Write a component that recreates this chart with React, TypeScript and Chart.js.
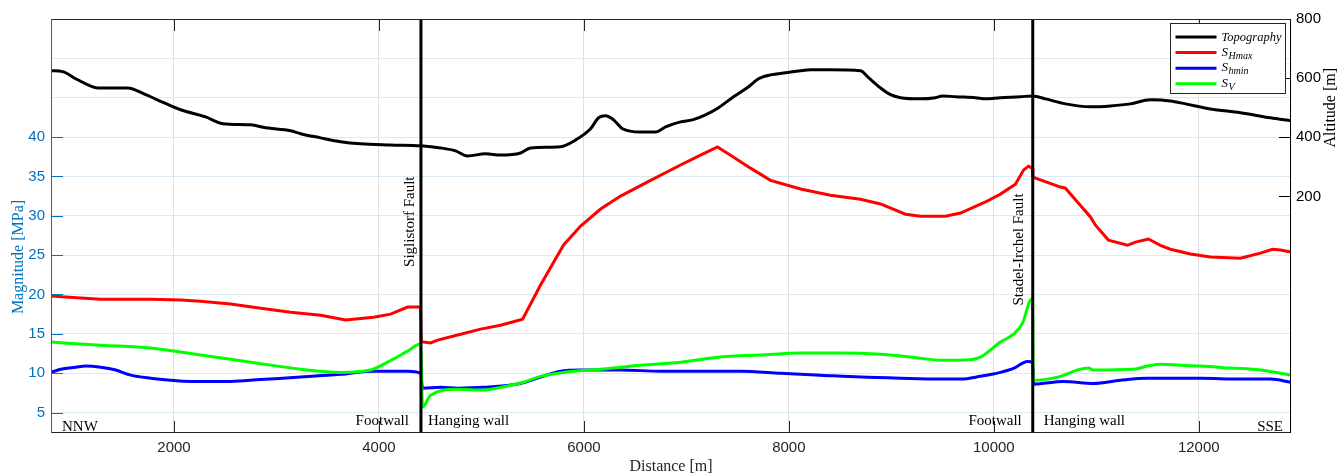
import React, { useEffect, useRef } from 'react';
import { Chart, registerables } from 'chart.js';

Chart.register(...registerables);

// ---- data: [distance (m), value] ----
const topography: number[][] = [
  [800, 625], [914, 622], [1041, 598], [1139, 581], [1256, 567], [1548, 567], [1724, 544], [1900, 517],
  [2065, 493], [2309, 469], [2475, 446], [2748, 442], [2895, 432], [3138, 422], [3236, 412], [3431, 398],
  [3626, 385], [3821, 378], [4114, 374], [4406, 371], [4602, 364], [4748, 354], [4865, 337], [5041, 344],
  [5187, 340], [5382, 347], [5480, 364], [5772, 368], [5919, 391], [6065, 429], [6143, 466], [6212, 473],
  [6290, 459], [6377, 429], [6553, 418], [6699, 418], [6797, 435], [6943, 452], [7060, 459], [7187, 476],
  [7314, 500], [7460, 537], [7607, 571], [7704, 598], [7821, 611], [7968, 618], [8114, 625], [8211, 628],
  [8406, 628], [8699, 625], [8767, 605], [8894, 567], [8992, 544], [9089, 534], [9284, 530], [9430, 534],
  [9499, 540], [9626, 537], [9821, 534], [9919, 530], [10065, 534], [10260, 537], [10378, 540], [10505, 530],
  [10699, 513], [10943, 503], [11138, 506], [11333, 513], [11528, 527], [11723, 523], [11870, 513], [12114, 496],
  [12406, 483], [12699, 466], [12900, 456],
];

const sHmax: number[][] = [
  [800, 19.8], [1090, 19.55], [1285, 19.4], [1773, 19.4], [2065, 19.3], [2260, 19.15], [2553, 18.8], [2846, 18.25],
  [3138, 17.75], [3431, 17.35], [3675, 16.75], [3948, 17.1], [4114, 17.5], [4280, 18.4], [4406, 18.4],
  [4412, 14.0], [4504, 13.85], [4573, 14.2], [4797, 14.95], [4992, 15.6], [5187, 16.1], [5402, 16.85],
  [5577, 21.2], [5802, 26.3], [5968, 28.7], [6163, 30.85], [6358, 32.5], [6651, 34.5], [6943, 36.45],
  [7138, 37.7], [7304, 38.75], [7431, 37.7], [7626, 36.05], [7821, 34.5], [8114, 33.4], [8406, 32.6],
  [8699, 32.1], [8894, 31.5], [9138, 30.2], [9284, 29.95], [9528, 29.95], [9675, 30.35], [9919, 31.75],
  [10065, 32.75], [10211, 34.0], [10290, 35.8], [10338, 36.3], [10375, 36.05],
  [10382, 34.9], [10651, 33.65], [10699, 33.5], [10816, 31.75], [10943, 29.85], [10992, 28.8], [11119, 26.9],
  [11304, 26.25], [11382, 26.65], [11509, 27.05], [11626, 26.25], [11723, 25.75], [11919, 25.15], [12114, 24.75],
  [12406, 24.6], [12601, 25.25], [12719, 25.75], [12797, 25.65], [12900, 25.4],
];

const shmin: number[][] = [
  [800, 10.1], [895, 10.5], [1041, 10.75], [1139, 10.9], [1285, 10.75], [1432, 10.4], [1578, 9.75], [1773, 9.35],
  [1968, 9.1], [2163, 8.95], [2553, 8.95], [2846, 9.2], [3236, 9.5], [3626, 9.85], [3919, 10.25], [4280, 10.25],
  [4406, 10.0], [4426, 8.1], [4602, 8.2], [4768, 8.1], [5021, 8.2], [5382, 8.7], [5577, 9.5], [5772, 10.25],
  [5968, 10.4], [6358, 10.4], [6748, 10.25], [7138, 10.25], [7529, 10.25], [7919, 10.0], [8309, 9.75],
  [8699, 9.5], [9089, 9.35], [9479, 9.25], [9675, 9.25], [9870, 9.6], [10065, 10.1], [10192, 10.6],
  [10329, 11.5], [10378, 11.4], [10390, 8.6], [10680, 8.95], [10972, 8.7], [11236, 9.1], [11499, 9.35],
  [11626, 9.35], [12016, 9.35], [12406, 9.25], [12699, 9.25], [12900, 8.85],
];

const sV: number[][] = [
  [800, 13.95], [1285, 13.55], [1773, 13.2], [2260, 12.3], [2748, 11.4], [3236, 10.5], [3626, 10.1], [3919, 10.4],
  [4085, 11.4], [4280, 12.8], [4406, 13.7], [4426, 5.7], [4504, 7.2], [4768, 7.95], [5021, 7.85], [5187, 8.2],
  [5411, 8.85], [5577, 9.6], [5802, 10.1], [6163, 10.5], [6553, 11.0], [6943, 11.4], [7334, 12.05], [7724, 12.3],
  [8114, 12.55], [8504, 12.55], [8894, 12.4], [9187, 12.05], [9479, 11.65], [9675, 11.65], [9870, 12.05],
  [10065, 13.95], [10192, 14.95], [10280, 16.35], [10358, 19.3], [10378, 19.4], [10384, 9.1], [10651, 9.6],
  [10816, 10.4], [10924, 10.65], [10972, 10.4], [11363, 10.5], [11499, 10.9], [11626, 11.15], [11821, 11.0],
  [12016, 10.9], [12309, 10.65], [12601, 10.4], [12900, 9.75],
];

const faults = [4410, 10380];
const faultNames = ['Siglistorf Fault', 'Stadel-Irchel Fault'];
const faultLabelStart = [23.5, 18.6]; // MPa where rotated label starts

const xRange = [800, 12900];
const yRange = [2.4, 55];
const altRange = [-600, 800];
const xTicks = [2000, 4000, 6000, 8000, 10000, 12000];
const yTicks = [5, 10, 15, 20, 25, 30, 35, 40, 45, 50];
const yLabelMax = 40;
const altTicks = [200, 400, 600, 800];

const BLUE_AX = '#0072BD';
const AX = '#262626';
const SERIF = '"Liberation Serif", "Times New Roman", serif';
const SANS = '"Liberation Sans", Arial, sans-serif';

const toXY = (arr: number[][]) => arr.map(([x, y]) => ({ x, y }));

const legendItems = [
  { color: '#000000', main: 'Topography', sub: '' },
  { color: '#FF0000', main: 'S', sub: 'Hmax' },
  { color: '#0000FF', main: 'S', sub: 'hmin' },
  { color: '#00FF00', main: 'S', sub: 'V' },
];

const overlay = {
  id: 'overlay',
  afterDatasetsDraw(chart: any) {
    const { ctx, chartArea: a, scales } = chart;
    const sx = scales.x, sy = scales.y, sa = scales.y1;
    const seg = (x1: number, y1: number, x2: number, y2: number, c: string, w = 1) => {
      ctx.beginPath();
      ctx.strokeStyle = c;
      ctx.lineWidth = w;
      ctx.moveTo(x1, y1);
      ctx.lineTo(x2, y2);
      ctx.stroke();
    };
    ctx.save();
    // tick marks (inside)
    const TL = 12;
    xTicks.forEach((v) => {
      const p = Math.round(sx.getPixelForValue(v)) + 0.5;
      seg(p, a.bottom, p, a.bottom - TL, AX);
      seg(p, a.top, p, a.top + TL, AX);
    });
    yTicks.filter((v) => v <= yLabelMax).forEach((v) => {
      const p = Math.round(sy.getPixelForValue(v)) + 0.5;
      seg(a.left, p, a.left + TL, p, BLUE_AX);
    });
    altTicks.forEach((v) => {
      const p = Math.round(sa.getPixelForValue(v)) + 0.5;
      seg(a.right, p, a.right - TL, p, '#000');
    });
    // frame
    seg(a.left, a.top + 0.5, a.right, a.top + 0.5, AX);
    seg(a.left, a.bottom - 0.5, a.right, a.bottom - 0.5, AX);
    seg(a.left + 0.5, a.top, a.left + 0.5, a.bottom, BLUE_AX);
    seg(a.right - 0.5, a.top, a.right - 0.5, a.bottom, '#000');

    // annotations
    ctx.fillStyle = '#000';
    ctx.font = `15px ${SERIF}`;
    ctx.textBaseline = 'alphabetic';
    const f1 = sx.getPixelForValue(faults[0]);
    const f2 = sx.getPixelForValue(faults[1]);
    const by = a.bottom - 8;
    ctx.textAlign = 'right';
    ctx.fillText('Footwall', f1 - 12, by);
    ctx.fillText('Footwall', f2 - 11, by);
    ctx.textAlign = 'left';
    ctx.fillText('Hanging wall', f1 + 7, by);
    ctx.fillText('Hanging wall', f2 + 11, by);
    ctx.fillText('NNW', a.left + 11, a.bottom - 2);
    ctx.textAlign = 'right';
    ctx.fillText('SSE', a.right - 8, a.bottom - 2);

    [f1, f2].forEach((fp, i) => {
      ctx.save();
      ctx.translate(fp - (i === 0 ? 7 : 10), sy.getPixelForValue(faultLabelStart[i]));
      ctx.rotate(-Math.PI / 2);
      ctx.textAlign = 'left';
      ctx.fillText(faultNames[i], 0, 0);
      ctx.restore();
    });

    // axis titles
    ctx.font = `16px ${SERIF}`;
    ctx.save();
    ctx.fillStyle = BLUE_AX;
    ctx.translate(23, 257);
    ctx.rotate(-Math.PI / 2);
    ctx.textAlign = 'center';
    ctx.fillText('Magnitude [MPa]', 0, 0);
    ctx.restore();

    ctx.save();
    ctx.fillStyle = '#000';
    ctx.translate(1335, (sa.getPixelForValue(200) + sa.getPixelForValue(800)) / 2);
    ctx.rotate(-Math.PI / 2);
    ctx.textAlign = 'center';
    ctx.fillText('Altitude [m]', 0, 0);
    ctx.restore();

    ctx.fillStyle = AX;
    ctx.textAlign = 'center';
    ctx.fillText('Distance [m]', (a.left + a.right) / 2, 471);

    // legend
    const bw = 115, bh = 70;
    const bx = Math.round(a.right - 6 - bw) + 0.5;
    const byy = Math.round(a.top + 4) + 0.5;
    ctx.fillStyle = '#fff';
    ctx.fillRect(bx, byy, bw, bh);
    ctx.strokeStyle = AX;
    ctx.lineWidth = 1;
    ctx.strokeRect(bx, byy, bw, bh);
    legendItems.forEach((it, i) => {
      const ry = byy + 13.5 + i * 15.6;
      seg(bx + 5, ry, bx + 46, ry, it.color, 3);
      ctx.fillStyle = '#000';
      ctx.textAlign = 'left';
      if (!it.sub) {
        ctx.font = `italic 12.5px ${SERIF}`;
        ctx.fillText(it.main, bx + 51, ry + 4);
      } else {
        ctx.font = `italic 13px ${SERIF}`;
        ctx.fillText(it.main, bx + 51, ry + 3);
        const w = ctx.measureText(it.main).width;
        ctx.font = `italic 10px ${SERIF}`;
        ctx.fillText(it.sub, bx + 51 + w + 0.5, ry + 6);
      }
    });
    ctx.restore();
  },
};

export default function App() {
  const ref = useRef<HTMLCanvasElement>(null);
  useEffect(() => {
    if (!ref.current) return;
    const line = (data: number[][], color: string, axis: string, width = 3, smooth = true) => ({
      data: toXY(data),
      borderColor: color,
      backgroundColor: color,
      borderWidth: width,
      pointRadius: 0,
      fill: false,
      yAxisID: axis,
      tension: 0,
      cubicInterpolationMode: smooth ? 'monotone' : 'default',
    });
    const faultSets = faults.map((f) => ({
      data: [{ x: f, y: yRange[0] }, { x: f, y: yRange[1] }],
      borderColor: '#000',
      borderWidth: 3,
      pointRadius: 0,
      fill: false,
      yAxisID: 'y',
      tension: 0,
    }));
    const chart = new Chart(ref.current, {
      type: 'line',
      data: {
        datasets: [
          ...faultSets,
          line(sV, '#00FF00', 'y'),
          line(shmin, '#0000FF', 'y'),
          line(sHmax, '#FF0000', 'y', 3, false),
          line(topography, '#000000', 'y1', 3),
        ] as any,
      },
      options: {
        responsive: false,
        animation: false,
        layout: { padding: { top: 19, left: 0, right: 0, bottom: 0 } },
        plugins: { legend: { display: false }, tooltip: { enabled: false } },
        scales: {
          x: {
            type: 'linear',
            min: xRange[0],
            max: xRange[1],
            afterBuildTicks: (s: any) => { s.ticks = xTicks.map((v) => ({ value: v })); },
            afterFit: (s: any) => { s.height = 41; },
            grid: { color: '#dfdfdf', drawTicks: false },
            border: { display: false },
            ticks: {
              padding: 6, color: AX, font: { family: SANS, size: 15 }, maxRotation: 0, autoSkip: false,
              callback: (v: any) => String(v),
            },
          },
          y: {
            type: 'linear',
            position: 'left',
            min: yRange[0],
            max: yRange[1],
            afterBuildTicks: (s: any) => { s.ticks = yTicks.map((v) => ({ value: v })); },
            afterFit: (s: any) => { s.width = 51; },
            grid: { color: 'rgb(217,234,245)', drawTicks: false },
            border: { display: false },
            ticks: {
              padding: 6,
              color: BLUE_AX,
              font: { family: SANS, size: 15 },
              autoSkip: false,
              callback: (v: any) => (Number(v) > yLabelMax ? '' : String(v)),
            },
          },
          y1: {
            type: 'linear',
            position: 'right',
            min: altRange[0],
            max: altRange[1],
            afterBuildTicks: (s: any) => { s.ticks = altTicks.map((v) => ({ value: v })); },
            afterFit: (s: any) => { s.width = 47; },
            grid: { display: false, drawTicks: false },
            border: { display: false },
            ticks: { padding: 5, color: '#000', font: { family: SANS, size: 15 }, autoSkip: false, callback: (v: any) => String(v) },
          },
        },
      } as any,
      plugins: [overlay],
    });
    return () => chart.destroy();
  }, []);
  return (
    <div style={{ position: 'absolute', left: 0, top: 0, width: 1338, height: 474, background: '#fff' }}>
      <canvas ref={ref} width={1338} height={474} style={{ display: 'block' }} />
    </div>
  );
}
